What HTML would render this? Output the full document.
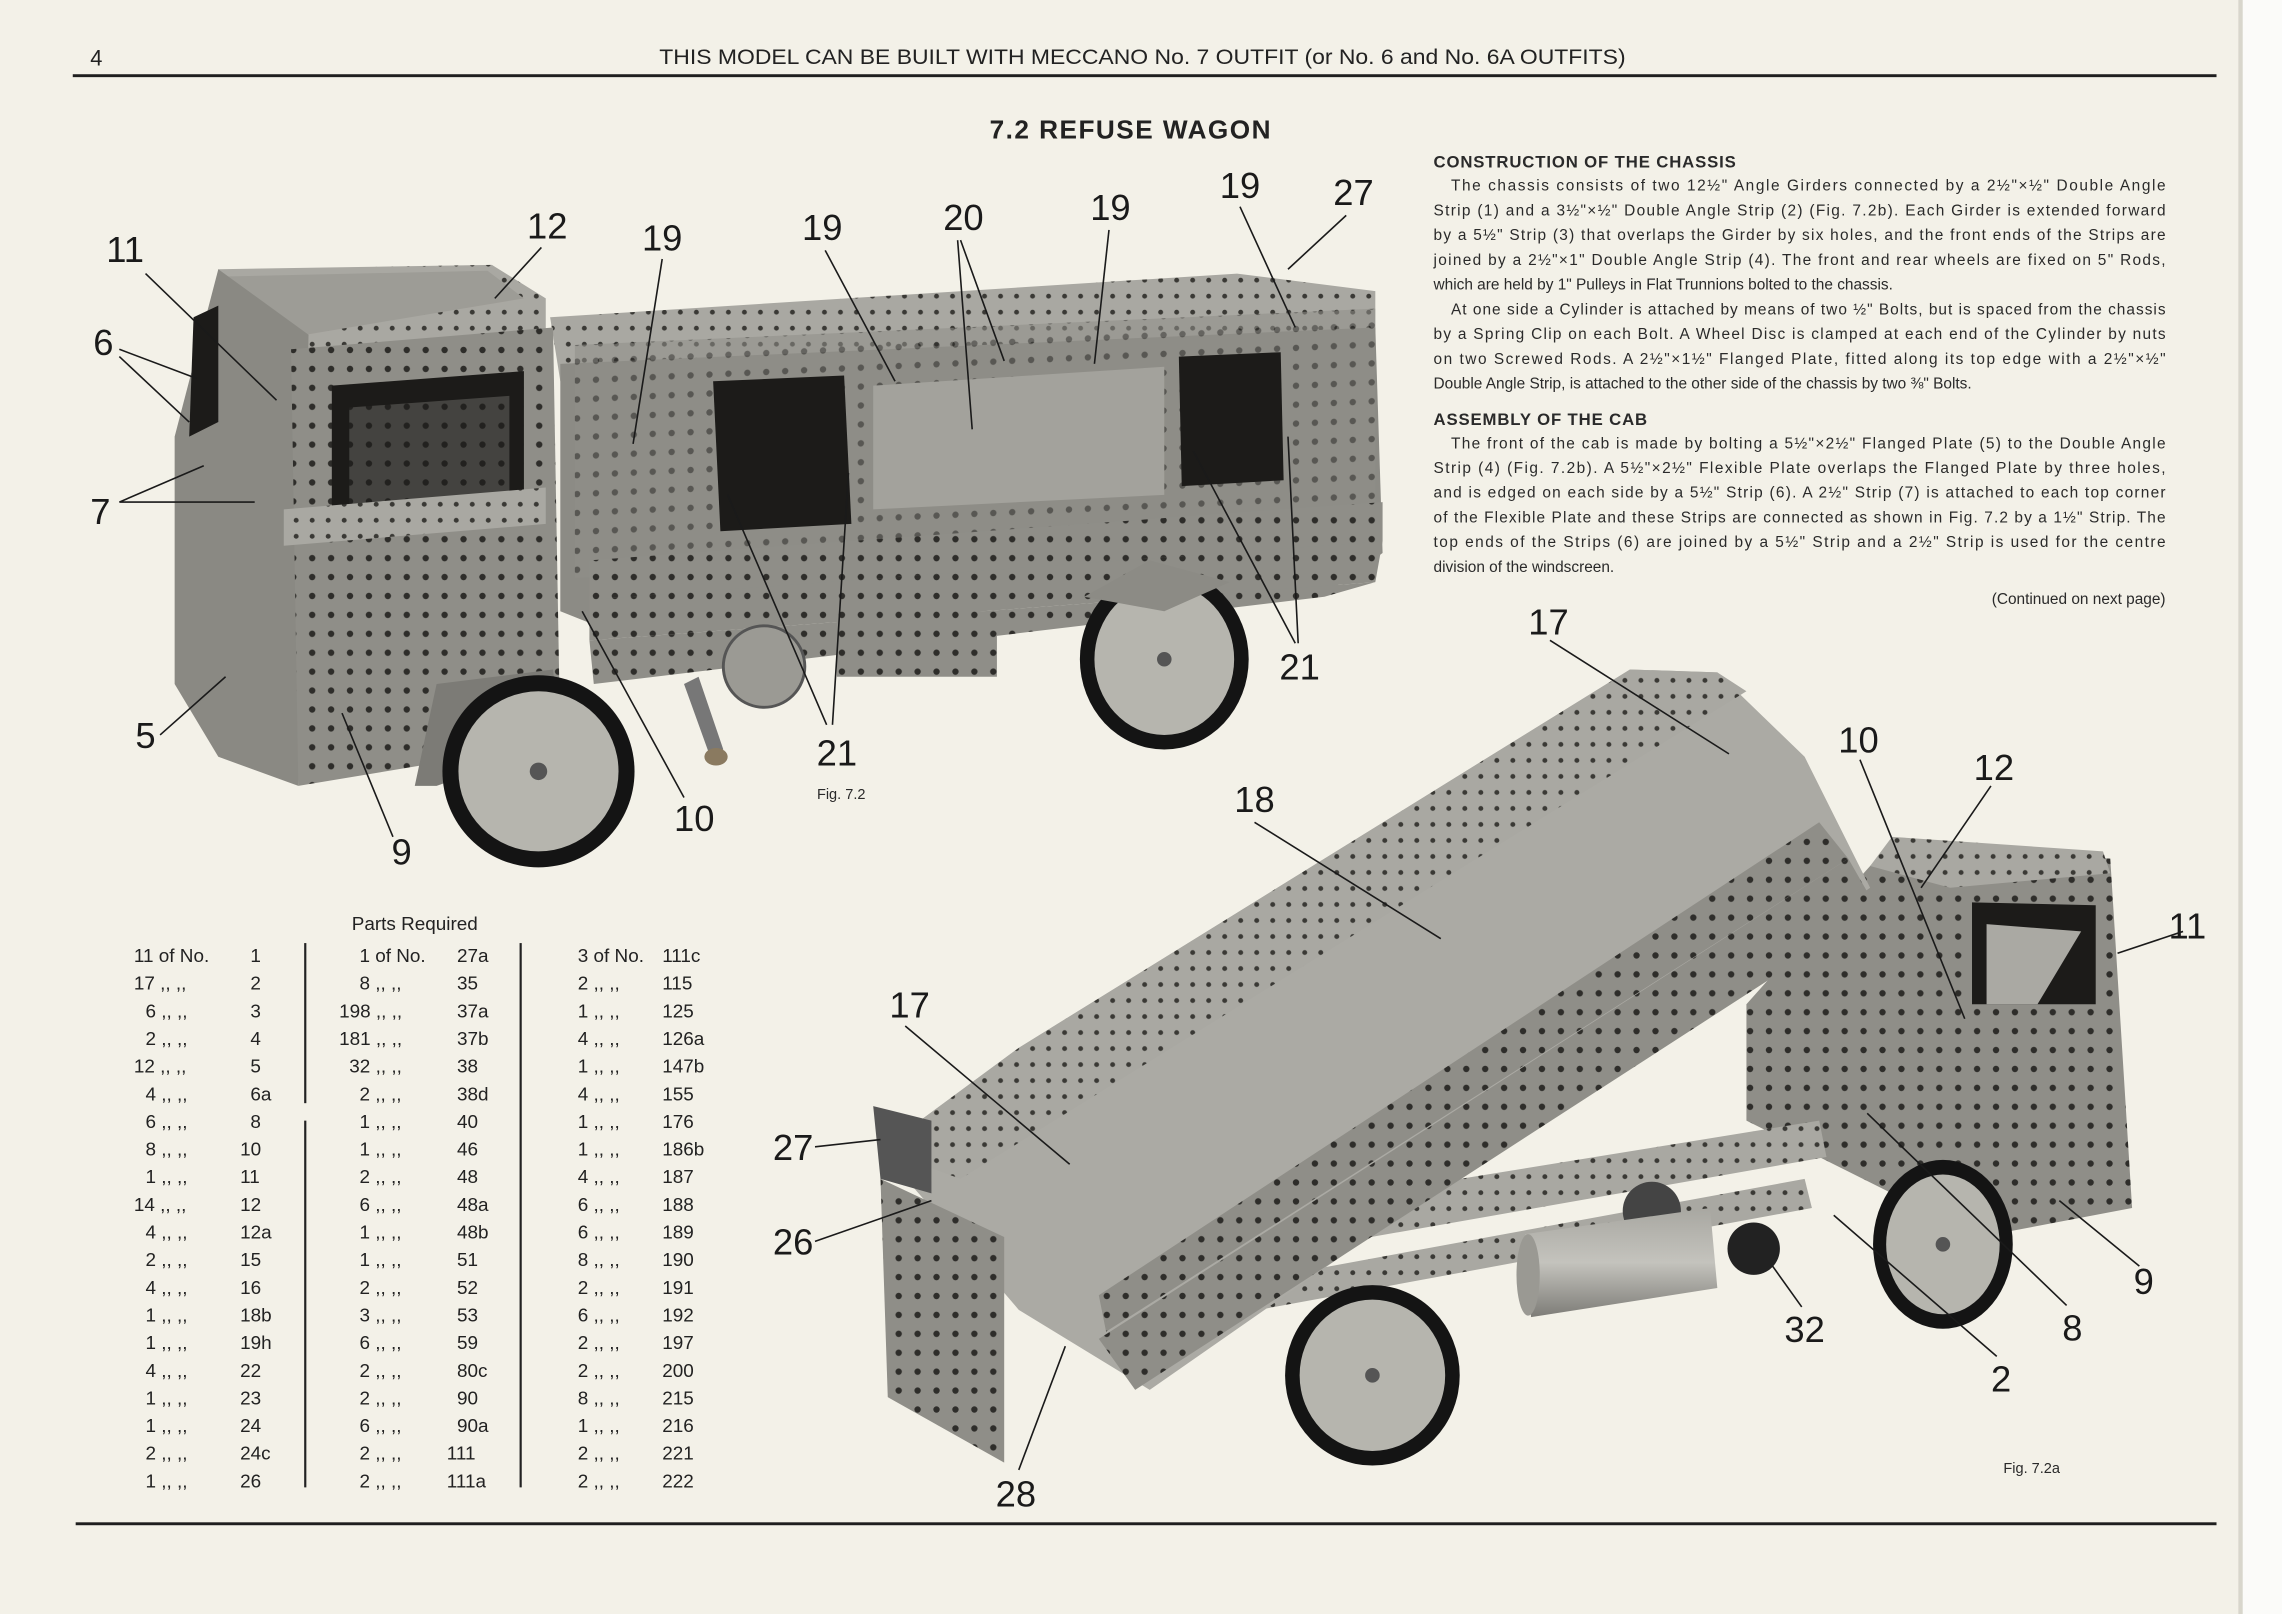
<!DOCTYPE html>
<html><head><meta charset="utf-8"><style>
html,body{margin:0;padding:0;background:#f3f1e8;}
svg{display:block;}
.l{font-family:"Liberation Sans",sans-serif;font-size:25px;fill:#1a1a1a;}
.t{font-family:"Liberation Sans",sans-serif;font-size:10.6px;fill:#2a2a2a;}
.p{font-family:"Liberation Sans",sans-serif;font-size:13px;fill:#222;}
</style></head><body>
<svg width="2282" height="1614" viewBox="0 0 1568 1109" xmlns="http://www.w3.org/2000/svg">
<defs>
<pattern id="holes" width="13" height="13" patternUnits="userSpaceOnUse">
<rect width="13" height="13" fill="#8f8e88"/><circle cx="6.5" cy="6.5" r="2.2" fill="#2e2d2a"/>
</pattern>
<pattern id="holesL" width="11" height="11" patternUnits="userSpaceOnUse">
<rect width="11" height="11" fill="#a9a8a2"/><circle cx="5.5" cy="5.5" r="1.7" fill="#3a3935"/>
</pattern>
<linearGradient id="cyl" x1="0" y1="0" x2="0" y2="1"><stop offset="0" stop-color="#a8a7a1"/><stop offset="0.5" stop-color="#c4c3bd"/><stop offset="1" stop-color="#7d7c77"/></linearGradient>
</defs>
<rect width="1568" height="1109" fill="#f3f1e8"/>
<rect x="1540" y="0" width="28" height="1109" fill="#fbfbf9"/>
<rect x="1538" y="0" width="3" height="1109" fill="#d8d6cc"/>

<text x="62" y="45" class="p" style="font-size:15px">4</text>
<text x="785" y="44" class="p" text-anchor="middle" style="font-size:14.5px" textLength="664" lengthAdjust="spacingAndGlyphs">THIS MODEL CAN BE BUILT WITH MECCANO No. 7 OUTFIT (or No. 6 and No. 6A OUTFITS)</text>
<rect x="50" y="51" width="1473" height="2" fill="#1f1f1f"/>
<text x="777" y="95" class="p" text-anchor="middle" style="font-size:18px;font-weight:bold;letter-spacing:1px">7.2  REFUSE WAGON</text>

<text x="985" y="115" class="t" style="font-weight:bold;font-size:11.5px;letter-spacing:0.6px">CONSTRUCTION OF THE CHASSIS</text>
<text x="997" y="131" class="t" textLength="491" lengthAdjust="spacing">The chassis consists of two 12½" Angle Girders connected by a 2½"×½" Double Angle</text>
<text x="985" y="148" class="t" textLength="503" lengthAdjust="spacing">Strip (1) and a 3½"×½" Double Angle Strip (2) (Fig. 7.2b). Each Girder is extended forward</text>
<text x="985" y="165" class="t" textLength="503" lengthAdjust="spacing">by a 5½" Strip (3) that overlaps the Girder by six holes, and the front ends of the Strips are</text>
<text x="985" y="182" class="t" textLength="503" lengthAdjust="spacing">joined by a 2½"×1" Double Angle Strip (4). The front and rear wheels are fixed on 5" Rods,</text>
<text x="985" y="199" class="t">which are held by 1" Pulleys in Flat Trunnions bolted to the chassis.</text>
<text x="997" y="216" class="t" textLength="491" lengthAdjust="spacing">At one side a Cylinder is attached by means of two ½" Bolts, but is spaced from the chassis</text>
<text x="985" y="233" class="t" textLength="503" lengthAdjust="spacing">by a Spring Clip on each Bolt. A Wheel Disc is clamped at each end of the Cylinder by nuts</text>
<text x="985" y="250" class="t" textLength="503" lengthAdjust="spacing">on two Screwed Rods. A 2½"×1½" Flanged Plate, fitted along its top edge with a 2½"×½"</text>
<text x="985" y="267" class="t">Double Angle Strip, is attached to the other side of the chassis by two ⅜" Bolts.</text>
<text x="985" y="292" class="t" style="font-weight:bold;font-size:11.5px;letter-spacing:0.6px">ASSEMBLY OF THE CAB</text>
<text x="997" y="308" class="t" textLength="491" lengthAdjust="spacing">The front of the cab is made by bolting a 5½"×2½" Flanged Plate (5) to the Double Angle</text>
<text x="985" y="325" class="t" textLength="503" lengthAdjust="spacing">Strip (4) (Fig. 7.2b). A 5½"×2½" Flexible Plate overlaps the Flanged Plate by three holes,</text>
<text x="985" y="342" class="t" textLength="503" lengthAdjust="spacing">and is edged on each side by a 5½" Strip (6). A 2½" Strip (7) is attached to each top corner</text>
<text x="985" y="359" class="t" textLength="503" lengthAdjust="spacing">of the Flexible Plate and these Strips are connected as shown in Fig. 7.2 by a 1½" Strip. The</text>
<text x="985" y="376" class="t" textLength="503" lengthAdjust="spacing">top ends of the Strips (6) are joined by a 5½" Strip and a 2½" Strip is used for the centre</text>
<text x="985" y="393" class="t">division of the windscreen.</text>
<text x="1488" y="415" class="t" text-anchor="end">(Continued on next page)</text>

<!-- Truck 1 -->
<polygon points="378,218 850,188 945,200 945,235 385,262" fill="url(#holesL)"/>
<polygon points="385,250 945,225 950,380 915,405 410,430 385,420" fill="#8c8b85"/>
<rect x="395" y="255" width="550" height="160" fill="url(#holes)" opacity="0.55" transform="skewY(-2.6)"/>
<polygon points="490,262 580,258 585,360 495,365" fill="#1c1b19"/>
<polygon points="810,245 880,242 882,330 812,334" fill="#1c1b19"/>
<polygon points="600,265 800,252 800,340 600,350" fill="#a3a29c"/>
<polygon points="405,385 950,345 950,372 405,412" fill="url(#holes)"/>
<polygon points="405,412 950,372 945,400 405,440" fill="url(#holes)"/>
<polygon points="405,440 945,400 910,410 408,470" fill="url(#holes)"/>
<rect x="575" y="420" width="110" height="45" fill="url(#holes)"/>
<circle cx="525" cy="458" r="28" fill="#9b9a94" stroke="#555" stroke-width="2"/>
<polygon points="470,470 480,465 497,515 488,520" fill="#777"/>
<ellipse cx="492" cy="520" rx="8" ry="6" fill="#8a7a60"/>
<polygon points="150,185 338,182 375,205 375,240 205,245 150,205" fill="url(#holesL)"/>
<polygon points="155,190 335,186 360,205 210,230" fill="#9d9c96"/>
<polygon points="120,300 150,185 212,230 205,540 150,520 120,470" fill="#8a8983"/>
<polygon points="133,218 150,210 150,290 130,300" fill="#1c1b19"/>
<polygon points="200,240 380,225 385,510 205,540" fill="url(#holes)"/>
<polygon points="228,265 360,255 360,345 228,355" fill="#1c1b19"/>
<polygon points="240,280 350,272 350,345 240,352" fill="url(#holes)" opacity="0.35"/>
<polygon points="195,350 375,335 375,360 195,375" fill="url(#holesL)"/>
<polygon points="205,540 285,540 300,470 380,460 385,510 300,540" fill="#7c7b76"/>
<circle cx="370" cy="530" r="66" fill="#141414"/>
<circle cx="370" cy="530" r="55" fill="#b6b5ae"/>
<circle cx="370" cy="530" r="6" fill="#555"/>
<ellipse cx="800" cy="453" rx="58" ry="62" fill="#141414"/>
<ellipse cx="800" cy="453" rx="48" ry="52" fill="#b6b5ae"/>
<circle cx="800" cy="453" r="5" fill="#555"/>
<polygon points="745,410 790,385 845,400 800,420" fill="#8c8b85"/>

<!-- Truck 2 -->
<polygon points="1200,690 1285,595 1300,580 1450,590 1465,830 1360,850 1200,770" fill="url(#holes)"/>
<polygon points="1285,595 1300,575 1445,585 1450,600 1340,610" fill="url(#holesL)"/>
<polygon points="1355,620 1440,622 1440,690 1355,690" fill="#1c1b19"/>
<polygon points="1365,635 1430,640 1400,690 1365,690" fill="#aaa9a3"/>
<polygon points="880,830 1250,770 1255,795 885,860" fill="url(#holesL)"/>
<polygon points="860,880 1240,810 1245,830 865,900" fill="url(#holesL)"/>
<circle cx="1135" cy="832" r="20" fill="#444"/>
<polygon points="1048,848 1175,830 1180,885 1052,905" fill="url(#cyl)"/>
<ellipse cx="1050" cy="876" rx="8" ry="28" fill="#9a9993"/>
<circle cx="1205" cy="858" r="18" fill="#222"/>
<polygon points="605,790 700,720 1120,460 1180,462 1240,520 1285,610 790,955 700,900 640,830" fill="#abaaa4"/>
<polygon points="605,790 700,720 1120,460 1180,462 1200,475 660,810" fill="url(#holesL)"/>
<polygon points="755,920 1270,590 1290,625 780,955" fill="url(#holes)"/>
<polygon points="755,890 1250,565 1270,590 760,915" fill="url(#holes)"/>
<polygon points="605,810 690,850 690,1005 610,960" fill="url(#holes)"/>
<polygon points="600,760 640,770 640,820 605,810" fill="#555"/>
<ellipse cx="943" cy="945" rx="60" ry="62" fill="#141414"/>
<ellipse cx="943" cy="945" rx="50" ry="52" fill="#b6b5ae"/>
<circle cx="943" cy="945" r="5" fill="#555"/>
<ellipse cx="1335" cy="855" rx="48" ry="58" fill="#141414"/>
<ellipse cx="1335" cy="855" rx="39" ry="48" fill="#b6b5ae"/>
<circle cx="1335" cy="855" r="5" fill="#555"/>

<g stroke="#1a1a1a" stroke-width="1.1" fill="none">
<path d="M100,188 L190,275"/><path d="M82,240 L135,260 M82,245 L130,290"/>
<path d="M82,345 L140,320 M82,345 L175,345"/>
<path d="M110,505 L155,465"/><path d="M270,575 L235,490"/>
<path d="M470,548 L400,420"/>
<path d="M568,498 L500,340 M572,498 L583,325"/>
<path d="M890,442 L820,310 M892,442 L885,300"/>
<path d="M372,170 L340,205"/><path d="M455,178 L435,305"/>
<path d="M567,172 L615,262"/><path d="M660,165 L690,248 M658,165 L668,295"/>
<path d="M762,158 L752,250"/><path d="M852,142 L890,225"/><path d="M925,148 L885,185"/>
<path d="M1065,440 L1188,518"/><path d="M862,565 L990,645"/>
<path d="M1278,522 L1350,700"/><path d="M1368,540 L1320,610"/>
<path d="M1500,640 L1455,655"/><path d="M622,705 L735,800"/>
<path d="M560,788 L605,783"/><path d="M560,853 L640,825"/>
<path d="M1470,870 L1415,825"/><path d="M1420,897 L1283,765"/>
<path d="M1238,898 L1218,870"/><path d="M1372,932 L1260,835"/>
<path d="M700,1010 L732,925"/>
</g>
<g class="l" text-anchor="middle">
<text x="86" y="180">11</text>
<text x="71" y="244">6</text><text x="69" y="360">7</text><text x="100" y="514">5</text>
<text x="276" y="594">9</text>
<text x="477" y="571">10</text><text x="575" y="526">21</text><text x="893" y="467">21</text>
<text x="376" y="164">12</text><text x="455" y="172">19</text><text x="565" y="165">19</text>
<text x="662" y="158">20</text><text x="763" y="151">19</text><text x="852" y="136">19</text><text x="930" y="141">27</text>
<text x="1064" y="436">17</text><text x="1277" y="517">10</text><text x="1370" y="536">12</text>
<text x="862" y="558">18</text><text x="1503" y="645">11</text><text x="625" y="699">17</text>
<text x="545" y="797">27</text><text x="545" y="862">26</text><text x="1473" y="889">9</text>
<text x="1424" y="921">8</text><text x="1240" y="922">32</text><text x="1375" y="956">2</text>
<text x="698" y="1035">28</text>
</g>
<text x="578" y="549" class="t" text-anchor="middle" style="font-size:10px">Fig. 7.2</text>
<text x="1396" y="1012" class="t" text-anchor="middle" style="font-size:10px">Fig. 7.2a</text>

<text x="285" y="639" class="p" text-anchor="middle">Parts Required</text>
<rect x="209" y="648" width="1.5" height="110" fill="#222"/><rect x="209" y="770" width="1.5" height="252" fill="#222"/>
<rect x="357" y="648" width="1.5" height="374" fill="#222"/>
<g class="p">
<text y="661"><tspan x="92">11 of No.</tspan><tspan x="172">1</tspan></text>
<text y="680"><tspan x="92">17 ,, ,,</tspan><tspan x="172">2</tspan></text>
<text y="699"><tspan x="100">6 ,, ,,</tspan><tspan x="172">3</tspan></text>
<text y="718"><tspan x="100">2 ,, ,,</tspan><tspan x="172">4</tspan></text>
<text y="737"><tspan x="92">12 ,, ,,</tspan><tspan x="172">5</tspan></text>
<text y="756"><tspan x="100">4 ,, ,,</tspan><tspan x="172">6a</tspan></text>
<text y="775"><tspan x="100">6 ,, ,,</tspan><tspan x="172">8</tspan></text>
<text y="794"><tspan x="100">8 ,, ,,</tspan><tspan x="165">10</tspan></text>
<text y="813"><tspan x="100">1 ,, ,,</tspan><tspan x="165">11</tspan></text>
<text y="832"><tspan x="92">14 ,, ,,</tspan><tspan x="165">12</tspan></text>
<text y="851"><tspan x="100">4 ,, ,,</tspan><tspan x="165">12a</tspan></text>
<text y="870"><tspan x="100">2 ,, ,,</tspan><tspan x="165">15</tspan></text>
<text y="889"><tspan x="100">4 ,, ,,</tspan><tspan x="165">16</tspan></text>
<text y="908"><tspan x="100">1 ,, ,,</tspan><tspan x="165">18b</tspan></text>
<text y="927"><tspan x="100">1 ,, ,,</tspan><tspan x="165">19h</tspan></text>
<text y="946"><tspan x="100">4 ,, ,,</tspan><tspan x="165">22</tspan></text>
<text y="965"><tspan x="100">1 ,, ,,</tspan><tspan x="165">23</tspan></text>
<text y="984"><tspan x="100">1 ,, ,,</tspan><tspan x="165">24</tspan></text>
<text y="1003"><tspan x="100">2 ,, ,,</tspan><tspan x="165">24c</tspan></text>
<text y="1022"><tspan x="100">1 ,, ,,</tspan><tspan x="165">26</tspan></text>

<text y="661"><tspan x="247">1 of No.</tspan><tspan x="314">27a</tspan></text>
<text y="680"><tspan x="247">8 ,, ,,</tspan><tspan x="314">35</tspan></text>
<text y="699"><tspan x="233">198 ,, ,,</tspan><tspan x="314">37a</tspan></text>
<text y="718"><tspan x="233">181 ,, ,,</tspan><tspan x="314">37b</tspan></text>
<text y="737"><tspan x="240">32 ,, ,,</tspan><tspan x="314">38</tspan></text>
<text y="756"><tspan x="247">2 ,, ,,</tspan><tspan x="314">38d</tspan></text>
<text y="775"><tspan x="247">1 ,, ,,</tspan><tspan x="314">40</tspan></text>
<text y="794"><tspan x="247">1 ,, ,,</tspan><tspan x="314">46</tspan></text>
<text y="813"><tspan x="247">2 ,, ,,</tspan><tspan x="314">48</tspan></text>
<text y="832"><tspan x="247">6 ,, ,,</tspan><tspan x="314">48a</tspan></text>
<text y="851"><tspan x="247">1 ,, ,,</tspan><tspan x="314">48b</tspan></text>
<text y="870"><tspan x="247">1 ,, ,,</tspan><tspan x="314">51</tspan></text>
<text y="889"><tspan x="247">2 ,, ,,</tspan><tspan x="314">52</tspan></text>
<text y="908"><tspan x="247">3 ,, ,,</tspan><tspan x="314">53</tspan></text>
<text y="927"><tspan x="247">6 ,, ,,</tspan><tspan x="314">59</tspan></text>
<text y="946"><tspan x="247">2 ,, ,,</tspan><tspan x="314">80c</tspan></text>
<text y="965"><tspan x="247">2 ,, ,,</tspan><tspan x="314">90</tspan></text>
<text y="984"><tspan x="247">6 ,, ,,</tspan><tspan x="314">90a</tspan></text>
<text y="1003"><tspan x="247">2 ,, ,,</tspan><tspan x="307">111</tspan></text>
<text y="1022"><tspan x="247">2 ,, ,,</tspan><tspan x="307">111a</tspan></text>

<text y="661"><tspan x="397">3 of No.</tspan><tspan x="455">111c</tspan></text>
<text y="680"><tspan x="397">2 ,,    ,,</tspan><tspan x="455">115</tspan></text>
<text y="699"><tspan x="397">1 ,,    ,,</tspan><tspan x="455">125</tspan></text>
<text y="718"><tspan x="397">4 ,,    ,,</tspan><tspan x="455">126a</tspan></text>
<text y="737"><tspan x="397">1 ,,    ,,</tspan><tspan x="455">147b</tspan></text>
<text y="756"><tspan x="397">4 ,,    ,,</tspan><tspan x="455">155</tspan></text>
<text y="775"><tspan x="397">1 ,,    ,,</tspan><tspan x="455">176</tspan></text>
<text y="794"><tspan x="397">1 ,,    ,,</tspan><tspan x="455">186b</tspan></text>
<text y="813"><tspan x="397">4 ,,    ,,</tspan><tspan x="455">187</tspan></text>
<text y="832"><tspan x="397">6 ,,    ,,</tspan><tspan x="455">188</tspan></text>
<text y="851"><tspan x="397">6 ,,    ,,</tspan><tspan x="455">189</tspan></text>
<text y="870"><tspan x="397">8 ,,    ,,</tspan><tspan x="455">190</tspan></text>
<text y="889"><tspan x="397">2 ,,    ,,</tspan><tspan x="455">191</tspan></text>
<text y="908"><tspan x="397">6 ,,    ,,</tspan><tspan x="455">192</tspan></text>
<text y="927"><tspan x="397">2 ,,    ,,</tspan><tspan x="455">197</tspan></text>
<text y="946"><tspan x="397">2 ,,    ,,</tspan><tspan x="455">200</tspan></text>
<text y="965"><tspan x="397">8 ,,    ,,</tspan><tspan x="455">215</tspan></text>
<text y="984"><tspan x="397">1 ,,    ,,</tspan><tspan x="455">216</tspan></text>
<text y="1003"><tspan x="397">2 ,,    ,,</tspan><tspan x="455">221</tspan></text>
<text y="1022"><tspan x="397">2 ,,    ,,</tspan><tspan x="455">222</tspan></text>
</g>
<rect x="52" y="1046" width="1471" height="2" fill="#1f1f1f"/>
</svg>
</body></html>
